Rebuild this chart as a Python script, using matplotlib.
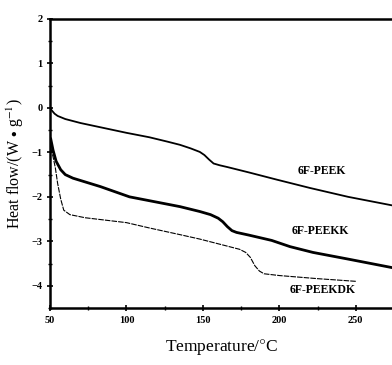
import numpy as np
import matplotlib
matplotlib.use('Agg')
import matplotlib.pyplot as plt

## DATA
T_PEEK = [50, 51, 53, 55, 60, 70, 85, 100, 115, 127, 135, 142, 148, 151, 154, 157, 161, 166, 180, 198, 220, 245, 275]
Q_PEEK = [0.02, -0.05, -0.13, -0.18, -0.25, -0.34, -0.45, -0.56, -0.66, -0.76, -0.83, -0.91, -0.99, -1.06,
          -1.16, -1.25, -1.29, -1.33, -1.45, -1.61, -1.8, -2.0, -2.2]

T_PEEKK = [50.5, 52, 54, 57, 60, 65, 83, 102, 120, 135, 148, 155, 160, 163, 166, 169, 172, 180, 195, 207, 222, 245, 275]
Q_PEEKK = [-0.7, -0.95, -1.2, -1.39, -1.5, -1.58, -1.77, -2.0, -2.12, -2.22, -2.33, -2.4, -2.48, -2.56,
           -2.67, -2.76, -2.8, -2.86, -2.98, -3.12, -3.25, -3.4, -3.6]

T_PEEKDK = [50.5, 52, 53.5, 55, 57, 59, 63, 73, 100, 115, 135, 148, 165, 174, 178, 181, 184, 187, 190, 200, 225, 250]
Q_PEEKDK = [-0.9, -1.1, -1.35, -1.7, -2.05, -2.3, -2.4, -2.47, -2.58, -2.7, -2.85, -2.95, -3.1, -3.18,
            -3.25, -3.36, -3.55, -3.67, -3.73, -3.77, -3.84, -3.9]

LABELS = ['6F-PEEK', '6F-PEEKK', '6F-PEEKDK']
LABEL_POS = [(228, -1.41), (227, -2.76), (228, -4.1)]

## FIGURE
plt.rcParams['font.family'] = ['Liberation Serif', 'DejaVu Serif']
plt.rcParams['mathtext.fontset'] = 'stix'

fig = plt.figure(figsize=(3.92, 3.65), dpi=100)
fig.patch.set_facecolor('white')
# axes runs off the right edge of the picture like in the scan
ax = fig.add_axes([50/392, 57/365, 344/392, 289/365])

ax.plot(T_PEEK, Q_PEEK, color='k', lw=1.3)
ax.plot(T_PEEKK, Q_PEEKK, color='k', lw=2.0)
ax.plot(T_PEEKDK, Q_PEEKDK, color='k', lw=0.8, linestyle=(0, (5, 1)))

for lab, (x, y) in zip(LABELS, LABEL_POS):
    ax.text(x, y, lab, fontsize=8.5, fontweight='bold', ha='center', va='center')

ax.set_xlim(50, 275)
ax.set_ylim(-4.5, 2)
ax.set_xticks([50, 100, 150, 200, 250])
ax.set_xticks([75, 125, 175, 225], minor=True)
ax.set_yticks([-4, -3, -2, -1, 0, 1, 2])
ax.set_yticks(np.arange(-4.5, 2.0, 0.5), minor=True)
ax.tick_params(axis='both', which='major', direction='inout', length=5, width=1.2,
               labelsize=7.5, pad=3)
ax.tick_params(axis='both', which='minor', direction='inout', length=3, width=1.0)
for t in ax.get_xticklabels() + ax.get_yticklabels():
    t.set_fontweight('bold')

for s in ['left', 'bottom', 'top']:
    ax.spines[s].set_linewidth(1.8)
ax.spines['right'].set_visible(False)

ax.set_xlabel('Temperature/$\\degree$C', fontsize=12.5, labelpad=9)
ax.set_ylabel('Heat flow/(W $\\bullet$ g$^{-1}$)', fontsize=11.5, labelpad=4)

fig.savefig('out.png', dpi=100)
